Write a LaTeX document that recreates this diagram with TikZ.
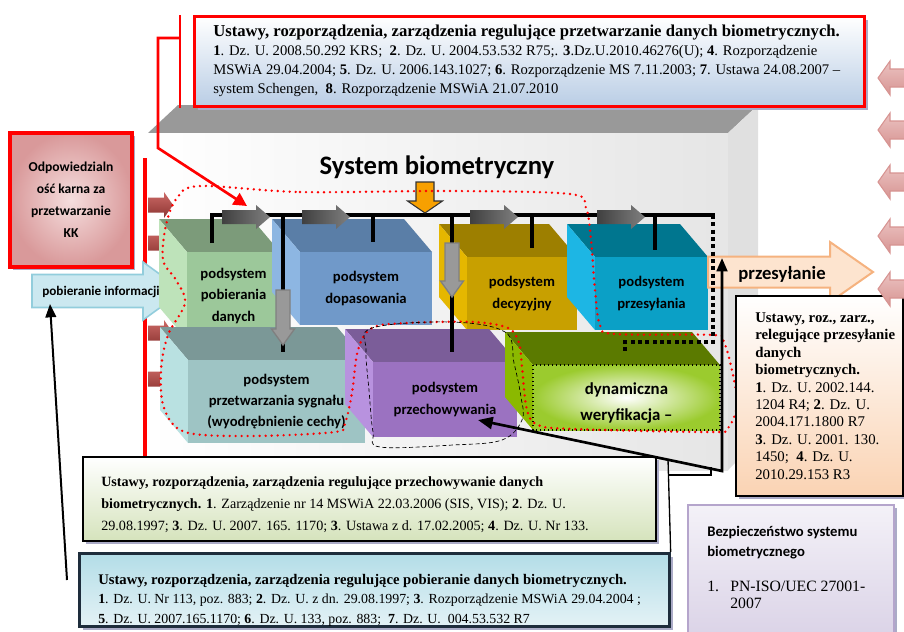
\documentclass[tikz,border=0pt]{standalone}
\usepackage{fontspec}
\setmainfont{Liberation Serif}
\newfontfamily\calib{Carlito}
\usetikzlibrary{arrows.meta,positioning,shadows}

\definecolor{grnF}{HTML}{9CC89A}\definecolor{grnT}{HTML}{7C9B7A}\definecolor{grnS}{HTML}{BEE3BA}
\definecolor{bluF}{HTML}{7099C9}\definecolor{bluT}{HTML}{5A7EA7}\definecolor{bluS}{HTML}{8DB6E2}
\definecolor{yelF}{HTML}{C8A000}\definecolor{yelT}{HTML}{9D7F00}\definecolor{yelS}{HTML}{E5B700}
\definecolor{cyaF}{HTML}{0BA0C6}\definecolor{cyaT}{HTML}{00768F}\definecolor{cyaS}{HTML}{1DB6E4}
\definecolor{tealF}{HTML}{9EC4C4}\definecolor{tealT}{HTML}{7B9897}\definecolor{tealS}{HTML}{B9E1E1}
\definecolor{purF}{HTML}{9B72C1}\definecolor{purT}{HTML}{7B5D99}\definecolor{purS}{HTML}{B892DF}
\definecolor{limF}{HTML}{9BCB2E}\definecolor{limT}{HTML}{5B7A00}\definecolor{limS}{HTML}{8BB900}
\definecolor{lawblue}{HTML}{B9CDE5}
\definecolor{lawgreen}{HTML}{D5E3BC}
\definecolor{lawnavy}{HTML}{1E2D3C}
\definecolor{lawcyan}{HTML}{B3DDE7}
\definecolor{lawcyanb}{HTML}{E4F2F6}
\definecolor{lawpeach}{HTML}{FAD3B3}
\definecolor{lavender}{HTML}{D9D1E6}
\definecolor{lavedge}{HTML}{B5A5CC}
\definecolor{pinkin}{HTML}{F5DEDE}
\definecolor{pinkout}{HTML}{D9999A}
\definecolor{infofill}{HTML}{CBE8F0}
\definecolor{infoedge}{HTML}{92CDDC}
\definecolor{sendfill}{HTML}{FDE4CF}
\definecolor{sendedge}{HTML}{F5B27F}
\definecolor{orng}{HTML}{F7A000}
\definecolor{redA}{HTML}{CC6966}
\definecolor{redB}{HTML}{8C3532}
\definecolor{pinkA}{HTML}{EBC3C2}
\definecolor{pinkB}{HTML}{D79492}

% block: name, front x1 y1 x2 y2, top colour, side colour, front style, text
\newcommand{\subcube}[9]{%
	\fill[#6] (#2,#3) -- ({#2-28},{#3-33}) -- ({#4-28},{#3-33}) -- (#4,#3) -- cycle;
	\fill[#7] (#2,#3) -- ({#2-28},{#3-33}) -- ({#2-28},{#5-33}) -- (#2,#5) -- cycle;
	\path[#8] (#2,#3) rectangle (#4,#5);
	\node[subtext] (#1) at ({(#2+#4)/2},{(#3+#5)/2}) {#9};}
% flat arrow along +x: length, shaft half, head half, head length
\newcommand{\blockarrow}[5][]{%
	\path[#1] (0,-#3) -- ({#2-#5},-#3) -- ({#2-#5},-#4) -- (#2,0) -- ({#2-#5},#4) -- ({#2-#5},#3) -- (0,#3) -- cycle;}

\begin{document}
\begin{tikzpicture}[x=0.75pt, y=-0.75pt,
	lawbox/.style={draw, line width=1.5pt, anchor=north west, inner sep=0pt,
		drop shadow={shadow xshift=2.5pt, shadow yshift=-2.5pt, fill=blue!20!gray!55, opacity=1}},
	lawtext/.style={anchor=west, align=left, inner sep=0pt},
	subtext/.style={align=center, inner sep=0pt, font=\calib\bfseries\fontsize{11}{16}\selectfont},
	bus/.style={line width=3pt},
	busarr/.style={left color=black!75, middle color=black!25, right color=black!50},
	downarr/.style={left color=black!40, middle color=white, right color=black!40, draw=black!50, line width=1pt},
	redarr/.style={top color=redA, bottom color=redB},
	pinkarr/.style={top color=pinkA, bottom color=pinkB, draw=pinkB, line width=0.8pt},
	reddots/.style={red, line width=2pt, line cap=round, dash pattern=on 0pt off 4.5pt}]
	\path[use as bounding box, clip] (0,0) rectangle (904,632);
	% frame of the system
	\fill[black!40] (148,133) -- (178,105) -- (758,105) -- (728,133) -- cycle;
	\fill[black!12] (728,133) -- (758,105) -- (758,440) -- (728,470) -- cycle;
	\shade[left color=white, right color=black!10] (148,133) rectangle (728,470);
	% laws on processing
	\node[lawbox, draw=red, line width=2.5pt, top color=white, bottom color=lawblue, minimum width=502.5pt, minimum height=67.5pt] (lawtop) at (193,15) {};
	\node[lawtext, font=\fontsize{11}{14.3}\selectfont] (lawtoptxt) at (213,61) {{\fontsize{12.5}{14.3}\selectfont\bfseries Ustawy, rozporządzenia, zarządzenia regulujące przetwarzanie danych biometrycznych.}\\
		\textbf{1}. Dz. U. 2008.50.292 KRS;~~\textbf{2}. Dz. U. 2004.53.532 R75;. \textbf{3}.Dz.U.2010.46276(U); \textbf{4}. Rozporządzenie\\
		MSWiA 29.04.2004; \textbf{5}. Dz. U. 2006.143.1027; \textbf{6}. Rozporządzenie MS 7.11.2003; \textbf{7}. Ustawa 24.08.2007 –\\
		system Schengen,~~\textbf{8}. Rozporządzenie MSWiA 21.07.2010};
	\draw[red, line width=2pt] (180,15) -- (180,108);
	% criminal liability
	\node[draw=red, line width=3pt, inner color=pinkin, outer color=pinkout, minimum width=91.5pt, minimum height=100.5pt,
		align=center, font=\calib\bfseries\fontsize{10.2}{16.5}\selectfont,
		drop shadow={shadow xshift=2.5pt, shadow yshift=-2.5pt, fill=blue!20!gray!55, opacity=1}] (odp) at (71,200) {Odpowiedzialn\\ość karna za\\przetwarzanie\\KK};
	\draw[red, line width=3pt] (145,158) -- (145,456);
	\foreach \y in {205,243,333,379}
		\blockarrow[redarr, shift={(148,\y)}]{25}{7.5}{13}{9};
	\blockarrow[fill=infofill, draw=infoedge, line width=1.2pt, shift={(32,291)}]{151}{16.5}{29}{40};
	\node[font=\calib\bfseries\fontsize{9.9}{11}\selectfont] (pobinfo) at (101,292) {pobieranie informacji};
	% upper row
	\subcube{pob}{187}{252}{280}{340}{grnT}{grnS}{fill=grnF}{podsystem\\pobierania\\danych}
	\subcube{dop}{300}{252}{432}{325}{bluT}{bluS}{fill=bluF}{podsystem\\dopasowania}
	\subcube{dec}{467}{257}{577}{330}{yelT}{yelS}{fill=yelF}{podsystem\\decyzyjny}
	\subcube{prs}{595}{257}{708}{330}{cyaT}{cyaS}{fill=cyaF}{podsystem\\przesyłania}
	% sending
	\blockarrow[fill=sendfill, draw=sendedge, line width=1.5pt, shift={(708,272)}]{165}{15.5}{30}{43};
	\node[font=\calib\bfseries\fontsize{14}{16}\selectfont] (przes) at (782,274) {przesyłanie};
	% lower row
	\subcube{prz}{188}{360}{365}{443}{tealT}{tealS}{fill=tealF}{podsystem\\przetwarzania sygnału\\(wyodrębnienie cechy)}
	\subcube{prch}{373}{362}{517}{437}{purT}{purS}{fill=purF}{podsystem\\przechowywania}
	\begin{scope}[subtext/.append style={font=\calib\bfseries\fontsize{12.6}{19.5}\selectfont, yshift=-4.5pt}]
		\subcube{dyn}{533}{365}{720}{430}{limT}{limS}{inner color=white, outer color=limF, draw, dotted, line width=1pt}{dynamiczna\\weryfikacja –}
	\end{scope}
	% bus
	\draw[bus] (212,243) -- (212,215) -- (715,215);
	\foreach \x/\y in {373/242, 532/248, 655/250, 283/352, 452/352}
		\draw[bus] (\x,215) -- (\x,\y);
	\draw[line width=3pt, dash pattern=on 3pt off 2.5pt] (713,215) -- (713,342) -- (625,342) -- (625,353);
	\foreach \x in {222,302,470,597}
		\blockarrow[busarr, shift={(\x,217)}]{48}{7}{12}{14};
	\blockarrow[downarr, shift={(283,290)}, rotate=-90]{55}{7}{11.5}{16};
	\blockarrow[downarr, shift={(452,243)}, rotate=-90]{54}{7}{11.5}{16};
	\blockarrow[fill=orng, draw=black!80, line width=0.8pt, shift={(425,182)}, rotate=-90]{31}{9}{17.5}{12};
	% groups
	\draw[reddots] plot[smooth cycle, tension=0.55] coordinates {(200,186) (300,192) (450,191) (570,194) (586,208) (591,240) (595,290) (600,325) (615,334) (713,335) (724,342) (733,375) (737,405) (728,428) (710,432) (573,429) (538,425) (527,410) (522,367) (519,343) (508,328) (473,322) (407,323) (372,328) (358,350) (352,393) (345,423) (335,432) (250,436) (185,432) (164,408) (161,370) (168,335) (185,303) (176,280) (163,260) (166,225) (177,198)};
	\draw[densely dashed, line width=0.5pt] plot[smooth cycle, tension=0.6] coordinates {(372,328) (450,322) (505,332) (514,363) (521,397) (522,420) (502,440) (453,445) (380,447) (373,432) (369,390) (366,350)};
	% laws
	\node[lawbox, top color=white, bottom color=lawgreen, minimum width=429.75pt, minimum height=63pt] (lawstore) at (82,456) {};
	\node[lawtext, font=\fontsize{10.6}{16.5}\selectfont] (lawstoretxt) at (101,505) {\textbf{Ustawy, rozporządzenia, zarządzenia regulujące przechowywanie danych}\\
		\textbf{biometrycznych. 1}. Zarządzenie nr 14 MSWiA 22.03.2006 (SIS, VIS); \textbf{2}. Dz. U.\\
		29.08.1997; \textbf{3}. Dz. U. 2007. 165. 1170; \textbf{3}. Ustawa z d. 17.02.2005; \textbf{4}. Dz. U. Nr 133.};
	\node[lawbox, draw=lawnavy, line width=2pt, top color=lawcyan, bottom color=lawcyanb, minimum width=442.5pt, minimum height=54.75pt] (lawpob) at (78,552) {};
	\node[lawtext, font=\fontsize{10.4}{14.6}\selectfont] (lawpobtxt) at (98,600) {{\fontsize{11}{14.6}\selectfont\bfseries Ustawy, rozporządzenia, zarządzenia regulujące pobieranie danych biometrycznych.}\\
		\textbf{1}. Dz. U. Nr 113, poz. 883; \textbf{2}. Dz. U. z dn. 29.08.1997; \textbf{3}. Rozporządzenie MSWiA 29.04.2004 ;\\
		\textbf{5}. Dz. U. 2007.165.1170; \textbf{6}. Dz. U. 133, poz. 883;~~\textbf{7}. Dz. U.~~004.53.532 R7};
	\node[lawbox, top color=white, bottom color=lawpeach, minimum width=125.25pt, minimum height=150pt] (lawsend) at (735,295) {};
	\node[lawtext, font=\fontsize{11.1}{13.1}\selectfont] (lawsendtxt) at (755,396) {\textbf{Ustawy, roz., zarz.,}\\\textbf{relegujące przesyłanie}\\\textbf{danych}\\\textbf{biometrycznych.}\\
		\textbf{1}. Dz. U. 2002.144.\\1204 R4; \textbf{2}. Dz. U.\\2004.171.1800 R7\\\textbf{3}. Dz. U. 2001. 130.\\1450;~~\textbf{4}. Dz. U.\\2010.29.153 R3};
	\node[lawbox, draw=lavedge, top color=white!70!lavender, bottom color=lavender, minimum width=154.5pt, minimum height=105.75pt] (secure) at (687,504) {};
	\node[lawtext, font=\calib\bfseries\fontsize{11}{15}\selectfont] (securehd) at (707,543) {Bezpieczeństwo systemu\\biometrycznego};
	\node[lawtext, font=\fontsize{11.8}{12.5}\selectfont] (securetxt) at (707,595) {\makebox[17.25pt][l]{1.}PN-ISO/UEC 27001-\\\hspace*{17.25pt}2007};
	% connectors
	\coordinate (redbar) at (180,38);
	\coordinate (bustip) at (247,206);
	\draw[red, line width=2pt, -{Triangle[length=10pt, width=10pt]}] (redbar) -- (158,38) -- (158,148) -- (bustip);
	\coordinate (pobtip) at (50,304);
	\draw[line width=1.5pt, -{Triangle[length=10pt, width=8pt]}] ([xshift=-8.25pt, yshift=-21pt]lawpob.north west) -- (pobtip);
	\coordinate (jn) at (722,471);
	\coordinate (prztip) at (722,258);
	\draw[line width=2pt, {Triangle[length=11pt, width=9pt]}-{Triangle[length=10pt, width=8pt]}] ([xshift=24.75pt, yshift=-15.4pt]prch.center) -- (jn) -- (prztip);
	\draw[line width=1pt] (lawpob.north east) -- (668,459);
	\draw[line width=1pt] (668,475) -- (711,475) -- (711,467);
	% inputs from the right
	\foreach \y in {78,130,182,236,289}
		\blockarrow[pinkarr, shift={(923,\y)}, rotate=180]{45}{9}{17}{12};
	% title
	\node[font=\calib\bfseries\fontsize{20}{24}\selectfont] (title) at (437,167) {System biometryczny};
\end{tikzpicture}
\end{document}
